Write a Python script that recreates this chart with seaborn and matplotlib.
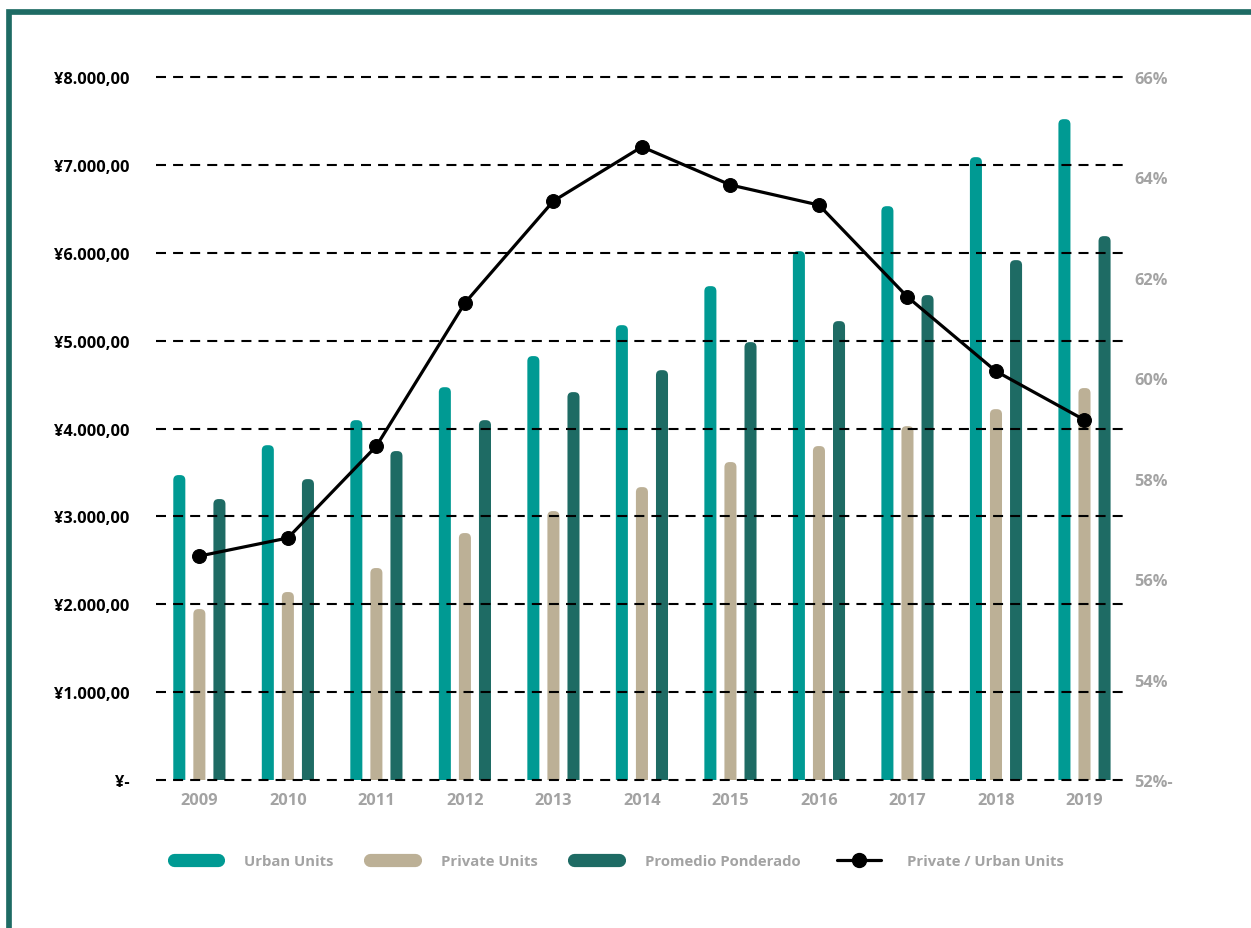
import numpy as np
import pandas as pd
import matplotlib
matplotlib.use("Agg")
import matplotlib.pyplot as plt
import seaborn as sns
from matplotlib.patches import FancyBboxPatch
from matplotlib.lines import Line2D

# ---- data -------------------------------------------------------------
years = [2009, 2010, 2011, 2012, 2013, 2014, 2015, 2016, 2017, 2018, 2019]
urban_units = [3470, 3810, 4095, 4470, 4824, 5176, 5620, 6018, 6530, 7088, 7520]
private_units = [1945, 2139, 2412, 2810, 3060, 3333, 3618, 3800, 4027, 4220, 4460]
promedio_ponderado = [3197, 3424, 3743, 4095, 4414, 4664, 4983, 5222, 5518, 5916, 6189]
private_urban_pct = [56.46, 56.82, 58.65, 61.50, 63.53, 64.61, 63.85, 63.45, 61.62, 60.14, 59.17]

series_names = ["Urban Units", "Private Units", "Promedio Ponderado"]
line_name = "Private / Urban Units"

left_ticks = [0, 1000, 2000, 3000, 4000, 5000, 6000, 7000, 8000]
left_labels = ["¥-", "¥1.000,00", "¥2.000,00", "¥3.000,00", "¥4.000,00",
               "¥5.000,00", "¥6.000,00", "¥7.000,00", "¥8.000,00"]
right_ticks = [52, 54, 56, 58, 60, 62, 64, 66]
right_labels = ["52%-", "54%", "56%", "58%", "60%", "62%", "64%", "66%"]

# ---- style ------------------------------------------------------------
C_URBAN = "#009a93"
C_PRIVATE = "#bcb096"
C_POND = "#1e6b64"
C_GREY = "#a3a3a3"
palette = [C_URBAN, C_PRIVATE, C_POND]

sns.set_theme(style="white")
plt.rcParams["font.family"] = ["Open Sans", "DejaVu Sans"]
plt.rcParams["font.weight"] = "bold"

df = pd.DataFrame({
    "Year": years * 3,
    "Value": urban_units + private_units + promedio_ponderado,
    "Series": sum([[s] * len(years) for s in series_names], []),
})

W, H = 1251, 929
fig = plt.figure(figsize=(W / 100, H / 100), dpi=100)
ax = fig.add_axes([156 / W, (H - 781) / H, (1123 - 156) / W, (781 - 78) / H])

sns.barplot(data=df, x="Year", y="Value", hue="Series", hue_order=series_names,
            palette=palette, saturation=1, width=0.68, gap=0.4,
            legend=False, ax=ax)

ax.set_xlim(-0.49, 10.435)
ax.set_ylim(0, 8000)

# swap the square bars for ones with rounded tops
px_x = ax.transData.transform((1, 0))[0] - ax.transData.transform((0, 0))[0]
px_y = ax.transData.transform((0, 1))[1] - ax.transData.transform((0, 0))[1]
aspect = px_x / px_y
for p in list(ax.patches):
    x, w, h = p.get_x(), p.get_width(), p.get_height()
    r = 0.42 * w
    ry = r * aspect
    bar = FancyBboxPatch((x, -ry), w, h + ry,
                         boxstyle=f"round,pad=0,rounding_size={r}",
                         mutation_aspect=aspect,
                         facecolor=p.get_facecolor(), edgecolor="none",
                         zorder=p.get_zorder())
    p.remove()
    ax.add_patch(bar)

# dashed horizontal grid drawn over the bars
ax.set_yticks(left_ticks, left_labels)
ax.yaxis.grid(True, color="black", linestyle=(0, (4.8, 3.4)), linewidth=1.5)
ax.xaxis.grid(False)
ax.set_axisbelow(False)
for gl in ax.get_ygridlines():
    gl.set_clip_on(False)

ax.set_xlabel("")
ax.set_ylabel("")
ax.tick_params(axis="y", length=0, pad=19, labelsize=11.8, labelcolor="black")
ax.tick_params(axis="x", length=0, pad=9, labelsize=11.8, labelcolor=C_GREY)
for s in ax.spines.values():
    s.set_visible(False)

# ratio line on the secondary axis
ax2 = ax.twinx()
sns.lineplot(x=np.arange(len(years)), y=private_urban_pct, ax=ax2,
             color="black", linewidth=2.3, marker="o", markersize=10,
             markeredgecolor="black", markerfacecolor="black", legend=False)
ax2.set_ylim(52, 66)
ax2.set_yticks(right_ticks, right_labels)
ax2.tick_params(axis="y", length=0, pad=8, labelsize=11.8, labelcolor=C_GREY)
ax2.set_ylabel("")
ax2.grid(False)
for s in ax2.spines.values():
    s.set_visible(False)
ax.set_xlim(-0.49, 10.435)

# legend
handles = [Line2D([0], [0], color=c, linewidth=9.5, solid_capstyle="round")
           for c in palette]
handles.append(Line2D([0], [0], color="black", linewidth=2.3, marker="o",
                      markersize=10))
leg = fig.legend(handles, series_names + [line_name], loc="center",
                 bbox_to_anchor=(619 / W, 1 - 862 / H), ncol=4,
                 frameon=False, fontsize=10.7, labelcolor=C_GREY,
                 handlelength=3.0, handletextpad=1.75, columnspacing=2.45)

# frame lines along the top and left edges
fig.add_artist(Line2D([8.8 / W, 8.8 / W, 1.0], [0.0, 1 - 12.8 / H, 1 - 12.8 / H],
                      transform=fig.transFigure, color=C_POND, linewidth=4.1,
                      solid_joinstyle="miter", solid_capstyle="projecting"))

fig.savefig("out.png", dpi=100)
